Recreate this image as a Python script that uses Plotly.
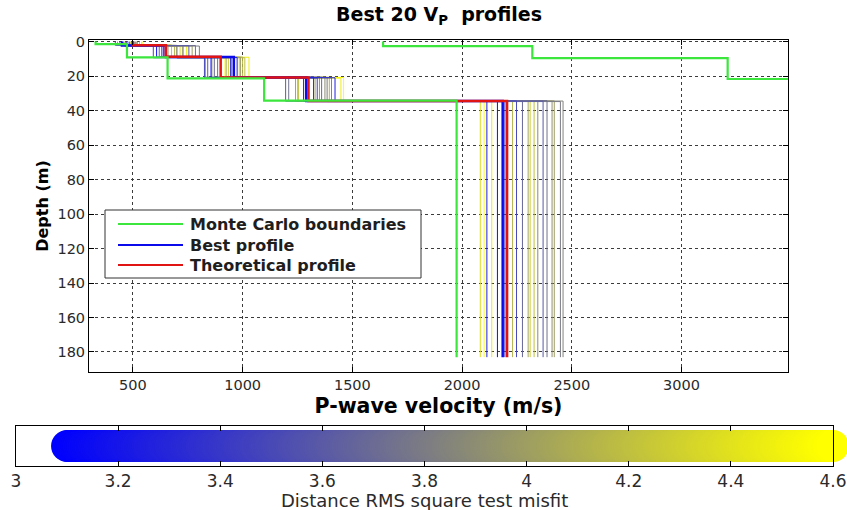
import numpy as np
import plotly.graph_objects as go
from plotly.colors import sample_colorscale

W, H = 847, 510
FONT = "DejaVu Sans"

# ---------------------------------------------------------------------------
# Data: 5-layer P-wave velocity models (4 layers over a half-space)
# ---------------------------------------------------------------------------
HALFSPACE_BOTTOM = 183.0          # depth (m) where every profile stops

# misfit of the 19 remaining profiles of the best 20
misfit = [3.18, 3.28, 3.40, 3.52, 3.62, 3.70, 3.76, 3.82, 3.87, 3.92,
          3.97, 4.02, 4.08, 4.15, 4.22, 4.30, 4.40, 4.50, 4.60]

# velocity of each layer (m/s), one entry per profile
vp_layer1 = [483, 455, 470, 420, 510, 440, 495, 465, 520, 500,
             430, 515, 475, 505, 530, 490, 460, 540, 546]
vp_layer2 = [608, 632, 640, 593, 755, 620, 785, 803, 700, 728,
             660, 770, 728, 690, 701, 676, 715, 745, 676]
vp_layer3 = [856, 975, 945, 826, 841, 871, 886, 900, 950, 830,
             860, 990, 925, 1000, 1010, 935, 985, 1029, 920]
vp_layer4 = [1278, 1421, 1323, 1340, 1196, 1360, 1210, 1385, 1405, 1375,
             1350, 1330, 1241, 1395, 1255, 1250, 1241, 1448, 1460]
vp_halfspace = [2161, 2113, 2195, 2248, 2369, 2275, 2387, 2448, 2460, 2345,
                2410, 2420, 2301, 2230, 2328, 2310, 2083, 2135, 2100]

# depth of the base of each layer (m), one entry per profile
base_layer1 = [2.3, 2.1, 2.5, 2.2, 2.4, 2.0, 2.3, 2.6, 2.2, 2.4,
               2.1, 2.5, 2.3, 2.2, 2.4, 2.0, 2.6, 2.3, 2.2]
base_layer2 = [9.0, 9.2, 8.9, 9.4, 9.1, 8.8, 9.3, 9.0, 9.5, 9.2,
               8.9, 9.1, 9.3, 9.0, 9.4, 8.8, 9.2, 9.1, 9.0]
base_layer3 = [20.8, 21.0, 20.6, 21.1, 20.9, 20.7, 21.2, 20.8, 21.0, 20.6,
               20.9, 21.1, 20.8, 20.7, 21.0, 20.9, 20.6, 21.2, 20.8]
base_layer4 = [34.5, 34.3, 34.7, 34.4, 34.6, 34.5, 34.2, 34.8, 34.5, 34.3,
               34.6, 34.4, 34.5, 34.7, 34.3, 34.6, 34.4, 34.5, 34.6]

# best-fitting profile (lowest misfit)
best_misfit = 3.10
best_vp = [450, 650, 960, 1290, 2185]
best_base = [2.3, 9.0, 20.8, 34.5]

# theoretical (true) profile
theo_vp = [500, 650, 900, 1300, 2205]
theo_base = [2.2, 8.8, 20.8, 34.5]

# Monte Carlo search boundaries (lower and upper)
mc_low_vp = [330, 473, 658, 1098, 1975]
mc_low_base = [1.5, 9.2, 21.3, 34.3]
mc_high_vp = [1640, 2320, 3210, 3500, 3500]
mc_high_base = [2.6, 9.6, 21.7, 34.5]

# axis ticks
vel_ticks = [500, 1000, 1500, 2000, 2500, 3000]
depth_ticks = [0, 20, 40, 60, 80, 100, 120, 140, 160, 180]
misfit_ticks = [3, 3.2, 3.4, 3.6, 3.8, 4, 4.2, 4.4, 4.6]
misfit_tick_text = ["3", "3.2", "3.4", "3.6", "3.8", "4", "4.2", "4.4", "4.6"]

# blue -> grey -> yellow colour map for the misfit
MISFIT_SCALE = [[0.0, "rgb(0,0,255)"], [0.5, "rgb(128,128,128)"], [1.0, "rgb(255,255,0)"]]
MISFIT_MIN, MISFIT_MAX = 3.1, 4.6


def misfit_color(m):
    t = (m - MISFIT_MIN) / (MISFIT_MAX - MISFIT_MIN)
    return sample_colorscale(MISFIT_SCALE, [min(max(t, 0.0), 1.0)])[0]


def step_profile(vels, bases):
    """Staircase path of a layered model: vertical inside layers, horizontal at interfaces."""
    tops = [0.0] + list(bases)
    bottoms = list(bases) + [HALFSPACE_BOTTOM]
    xs, ys = [], []
    for v, top, bot in zip(vels, tops, bottoms):
        xs += [v, v]
        ys += [top, bot]
    return xs, ys


def px(x):
    return x / W


def py(y):
    return 1 - y / H


fig = go.Figure()

# worst profiles first so the better ones end up on top
order = np.argsort(misfit)[::-1]
for i in order:
    vels = [vp_layer1[i], vp_layer2[i], vp_layer3[i], vp_layer4[i], vp_halfspace[i]]
    bases = [base_layer1[i], base_layer2[i], base_layer3[i], base_layer4[i]]
    xs, ys = step_profile(vels, bases)
    fig.add_trace(go.Scatter(x=xs, y=ys, mode="lines",
                             line=dict(color=misfit_color(misfit[i]), width=1),
                             hoverinfo="skip", showlegend=False))

xs, ys = step_profile(best_vp, best_base)
fig.add_trace(go.Scatter(x=xs, y=ys, mode="lines", name="Best profile",
                         line=dict(color="rgb(10,10,235)", width=2.5)))

xs, ys = step_profile(theo_vp, theo_base)
fig.add_trace(go.Scatter(x=xs, y=ys, mode="lines", name="Theoretical profile",
                         line=dict(color="rgb(225,20,20)", width=2.5)))

for vels, bases in ((mc_low_vp, mc_low_base), (mc_high_vp, mc_high_base)):
    xs, ys = step_profile(vels, bases)
    fig.add_trace(go.Scatter(x=xs, y=ys, mode="lines", name="Monte Carlo boundaries",
                             line=dict(color="rgb(60,230,60)", width=2.2)))

# colour bar drawn as a rounded bar of overlapping markers along the misfit axis
bar_x = np.linspace(MISFIT_MIN, MISFIT_MAX, 400)
fig.add_trace(go.Scatter(x=bar_x, y=np.full_like(bar_x, 0.5), mode="markers",
                         xaxis="x2", yaxis="y2", cliponaxis=False,
                         marker=dict(size=32, color=bar_x, colorscale=MISFIT_SCALE,
                                     cmin=MISFIT_MIN, cmax=MISFIT_MAX, line=dict(width=0)),
                         hoverinfo="skip"))

tick_font = dict(family=FONT, size=14.5, color="#2a2a2a")
axis_common = dict(showline=True, linecolor="black", linewidth=1, mirror="ticks",
                   ticks="inside", ticklen=5, tickcolor="black", zeroline=False,
                   automargin=False)

fig.update_layout(
    width=W, height=H, margin=dict(l=0, r=0, t=0, b=0),
    paper_bgcolor="white", plot_bgcolor="white", showlegend=False,
    title=dict(text="Best 20 V<sub>P</sub>  profiles", x=px(439), y=py(14),
               xanchor="center", yanchor="middle", automargin=False,
               font=dict(family=FONT, size=19, color="black", weight="bold")),
    xaxis=dict(domain=[px(89), px(788)], range=[300, 3485], tickvals=vel_ticks,
               showgrid=True, gridcolor="#3c3c3c", griddash="dot", gridwidth=1,
               tickfont=tick_font,
               title=dict(text="P-wave velocity (m/s)", standoff=6,
                          font=dict(family=FONT, size=20.5, color="black", weight="bold")),
               **axis_common),
    yaxis=dict(domain=[py(372), py(40)], range=[191.6, -0.9], tickvals=depth_ticks,
               showgrid=True, gridcolor="#3c3c3c", griddash="dot", gridwidth=1,
               tickfont=tick_font,
               title=dict(text="Depth (m)", standoff=4,
                          font=dict(family=FONT, size=16, color="black", weight="bold")),
               **axis_common),
    xaxis2=dict(domain=[px(16), px(833)], range=[3, 4.6], anchor="y2",
                tickvals=misfit_ticks, ticktext=misfit_tick_text, showgrid=False,
                ticklabeloverflow="allow",
                tickfont=dict(family=FONT, size=17, color="#2a2a2a"),
                **axis_common),
    yaxis2=dict(domain=[py(466), py(426)], range=[0, 1], anchor="x2",
                showticklabels=False, showgrid=False, showline=True, automargin=False,
                linecolor="black", linewidth=1, mirror=True, ticks="", zeroline=False),
)

# colour bar caption below its tick labels
fig.add_annotation(text="Distance RMS square test misfit", xref="paper", yref="paper",
                   x=px(424), y=py(500), xanchor="center", yanchor="middle", showarrow=False,
                   font=dict(family=FONT, size=18, color="#2a2a2a"))

# legend box
leg_x0, leg_x1, leg_y0, leg_y1 = 105, 421, 210, 278
fig.add_shape(type="rect", xref="paper", yref="paper",
              x0=px(leg_x0), x1=px(leg_x1), y0=py(leg_y1), y1=py(leg_y0),
              line=dict(color="#333", width=1), fillcolor="white", layer="above")
legend_items = [("Monte Carlo boundaries", "rgb(60,230,60)", 224),
                ("Best profile", "rgb(10,10,235)", 245),
                ("Theoretical profile", "rgb(225,20,20)", 265)]
for label, color, yrow in legend_items:
    fig.add_shape(type="line", xref="paper", yref="paper",
                  x0=px(118), x1=px(183), y0=py(yrow), y1=py(yrow),
                  line=dict(color=color, width=2), layer="above")
    fig.add_annotation(text=label, xref="paper", yref="paper",
                       x=px(188), y=py(yrow), xanchor="left", yanchor="middle",
                       showarrow=False,
                       font=dict(family=FONT, size=16, color="#1e1e1e", weight="bold"))

fig.write_html("out.html")
